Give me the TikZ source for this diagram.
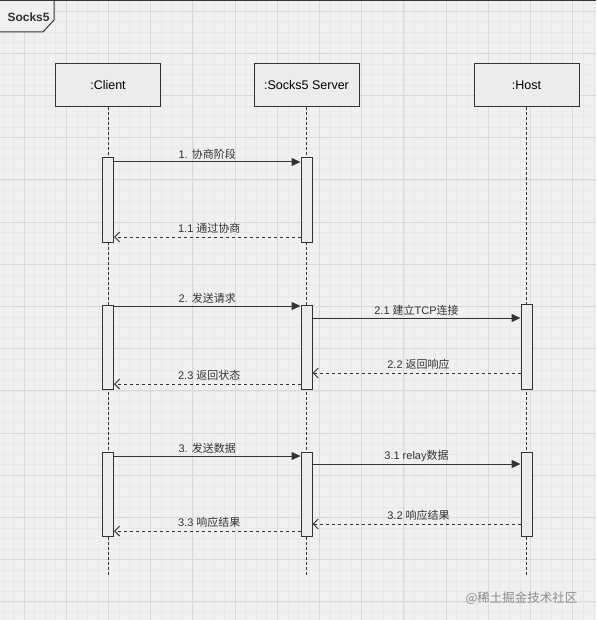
\documentclass[tikz,border=0pt]{standalone}
\usepackage{fontspec}
\setmainfont{Liberation Sans}
\newfontfamily\cjk{Noto Sans CJK SC}
\usetikzlibrary{arrows.meta,calc}
\definecolor{bg}{HTML}{F0F0F0}
\definecolor{minorg}{HTML}{E8E8E8}
\definecolor{majorg}{HTML}{D8D8D8}
\definecolor{ink}{HTML}{333333}
\definecolor{boxfill}{HTML}{ECECEC}
\tikzset{
  lifebox/.style={draw=ink, line width=1pt, fill=boxfill, minimum width=105pt, minimum height=43pt, inner sep=0pt, font=\fontsize{12.5}{15}\selectfont},
  actbox/.style={draw=ink, line width=1pt, fill=boxfill, minimum width=11pt, inner sep=0pt},
  lifeline/.style={draw=ink, line width=1pt, dash pattern=on 3pt off 2pt},
  callarrow/.style={draw=ink, line width=1pt, -{Triangle[length=9pt,width=8pt]}},
  retarrow/.style={draw=ink, line width=1pt, dash pattern=on 3pt off 3pt, -{Straight Barb[length=5pt,width=10pt]}},
  msg/.style={font=\fontsize{11}{13}\selectfont, text=ink, inner sep=1pt},
}
\begin{document}
\begin{tikzpicture}[x=1pt,y=-1pt]
\useasboundingbox (0,0) rectangle (596,620);
\fill[bg] (0,0) rectangle (596,620);
% minor grid
\foreach \i in {0,...,57} {
  \draw[minorg, line width=0.4pt] ({2.9+10.55*\i},0) -- ({2.9+10.55*\i},620);
}
\foreach \i in {0,...,59} {
  \draw[minorg, line width=0.4pt] (0,{0.45+10.55*\i}) -- (596,{0.45+10.55*\i});
}
% major grid
\foreach \i in {0,...,14} {
  \draw[majorg, line width=0.7pt] ({24+42.2*\i},0) -- ({24+42.2*\i},620);
}
\foreach \i in {0,...,14} {
  \draw[majorg, line width=0.7pt] (0,{11+42.2*\i}) -- (596,{11+42.2*\i});
}
% frame
\draw[ink, line width=1.5pt] (0,0.75) -- (596,0.75);
\draw[ink, line width=1pt, fill=bg] (0,0.5) -- (54,0.5) -- (54,20) -- (43,32) -- (0,32);
\node[font=\fontsize{12}{14}\selectfont\bfseries, text=ink, anchor=west] (framelabel) at (4,17) {Socks5};

% lifeline heads
\node[lifebox] (client) at (108,85) {:Client};
\node[lifebox] (server) at (306.5,85) {:Socks5 Server};
\node[lifebox] (host) at (526.5,85) {:Host};
\coordinate (clientend) at (108,575);
\coordinate (serverend) at (306.5,575);
\coordinate (hostend) at (526.5,575);
\draw[lifeline] (client.south) -- (clientend);
\draw[lifeline] (server.south) -- (serverend);
\draw[lifeline] (host.south) -- (hostend);

% activations
\node[actbox, minimum height=84pt] (ca1) at (108,200) {};
\node[actbox, minimum height=84pt] (sa1) at (306.5,200) {};
\node[actbox, minimum height=84pt] (ca2) at (108,347) {};
\node[actbox, minimum height=84pt] (sa2) at (306.5,347) {};
\node[actbox, minimum height=85pt] (ha2) at (526.5,346.5) {};
\node[actbox, minimum height=84pt] (ca3) at (108,494) {};
\node[actbox, minimum height=84pt] (sa3) at (306.5,494) {};
\node[actbox, minimum height=84pt] (ha3) at (526.5,494) {};

% message levels
\coordinate (y1) at (0,162);
\coordinate (y11) at (0,237);
\coordinate (y2) at (0,306);
\coordinate (y21) at (0,318);
\coordinate (y22) at (0,373);
\coordinate (y23) at (0,384);
\coordinate (y3) at (0,456);
\coordinate (y31) at (0,464);
\coordinate (y32) at (0,524);
\coordinate (y33) at (0,531);

\draw[callarrow] (ca1.east |- y1) -- node[msg, above=1pt] {1. {\cjk 协商阶段}} (sa1.west |- y1);
\draw[retarrow] (sa1.west |- y11) -- node[msg, above=2pt, xshift=2pt] {1.1 {\cjk 通过协商}} (ca1.east |- y11);

\draw[callarrow] (ca2.east |- y2) -- node[msg, above=1pt] {2. {\cjk 发送请求}} (sa2.west |- y2);
\draw[callarrow] (sa2.east |- y21) -- node[msg, above=1pt] {2.1 {\cjk 建立}TCP{\cjk 连接}} (ha2.west |- y21);
\draw[retarrow] (ha2.west |- y22) -- node[msg, above=2pt, xshift=2pt] {2.2 {\cjk 返回响应}} (sa2.east |- y22);
\draw[retarrow] (sa2.west |- y23) -- node[msg, above=2pt, xshift=2pt] {2.3 {\cjk 返回状态}} (ca2.east |- y23);

\draw[callarrow] (ca3.east |- y3) -- node[msg, above=1pt] {3. {\cjk 发送数据}} (sa3.west |- y3);
\draw[callarrow] (sa3.east |- y31) -- node[msg, above=1pt] {3.1 relay{\cjk 数据}} (ha3.west |- y31);
\draw[retarrow] (ha3.west |- y32) -- node[msg, above=2pt, xshift=2pt] {3.2 {\cjk 响应结果}} (sa3.east |- y32);
\draw[retarrow] (sa3.west |- y33) -- node[msg, above=2pt, xshift=2pt] {3.3 {\cjk 响应结果}} (ca3.east |- y33);

% watermark
\node[font=\cjk\fontsize{12.5}{14}\selectfont, text=black!45, anchor=east] (watermark) at (581,598) {@稀土掘金技术社区};
\end{tikzpicture}
\end{document}
